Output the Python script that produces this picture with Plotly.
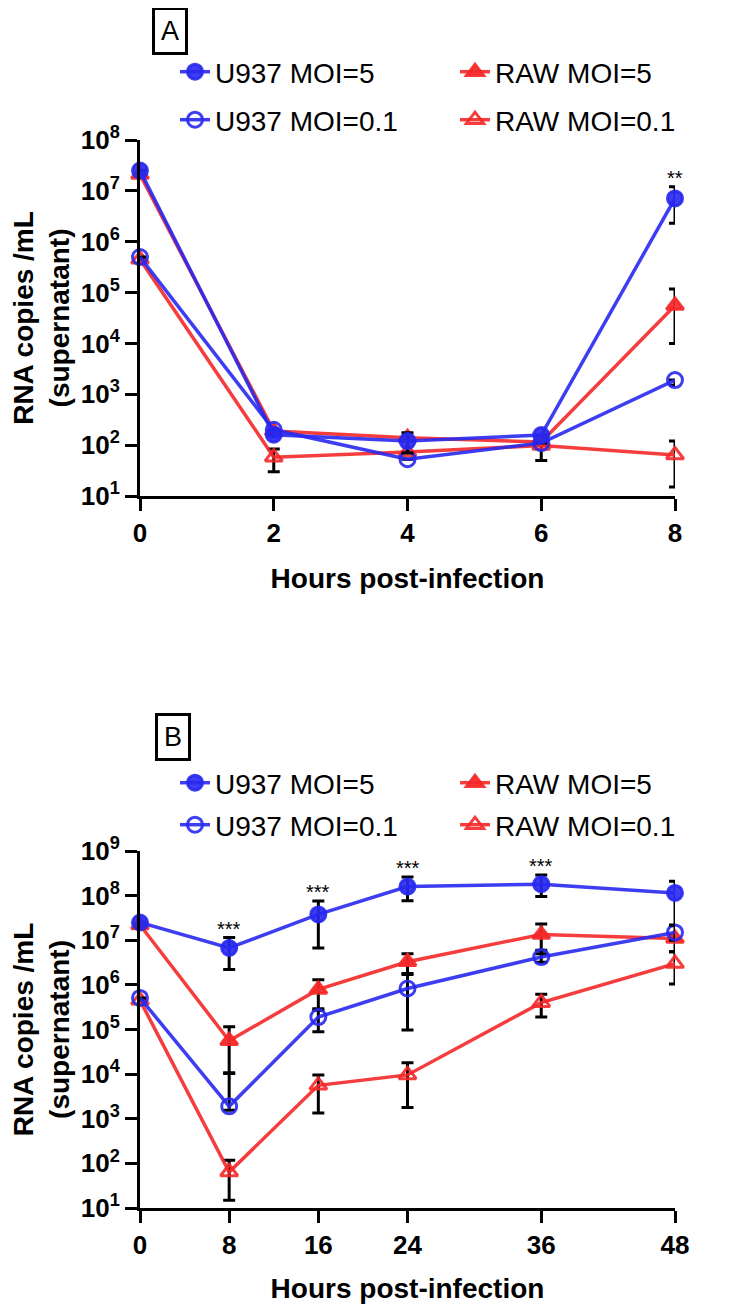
import math
import plotly.graph_objects as go

# ---------------- data ----------------
hours_A = [0, 2, 4, 6, 8]
u937_5_A = [2.5e7, 160, 120, 158, 7.1e6]
u937_5_A_hi = [None, None, 175, None, 1.2e7]
u937_5_A_lo = [None, None, 70, None, 2.3e6]
u937_01_A = [5.0e5, 200, 53, 110, 1.9e3]
u937_01_A_hi = [None, None, None, None, None]
u937_01_A_lo = [None, None, None, None, 1.5e3]
raw_5_A = [2.1e7, 190, 140, 115, 5.6e4]
raw_5_A_hi = [None, None, None, None, 1.17e5]
raw_5_A_lo = [None, None, None, None, 1.0e4]
raw_01_A = [4.5e5, 58, 73, 98, 64]
raw_01_A_hi = [None, 84, None, 120, 120]
raw_01_A_lo = [None, 30, None, 50, 15]
stars_A = ["", "", "", "", "**"]

hours_B = [0, 8, 16, 24, 36, 48]
u937_5_B = [2.5e7, 6.7e6, 3.8e7, 1.6e8, 1.8e8, 1.15e8]
u937_5_B_hi = [None, 1.15e7, 7.6e7, 2.6e8, 2.9e8, 2.1e8]
u937_5_B_lo = [None, 2.2e6, 6.7e6, 7.7e7, 9.5e7, 2.2e7]
u937_01_B = [5.1e5, 1.9e3, 1.9e5, 8.3e5, 4.2e6, 1.5e7]
u937_01_B_hi = [None, 1.07e4, 2.9e5, 1.8e6, 6.0e6, 2.1e7]
u937_01_B_lo = [None, 1.55e3, 8.9e4, 9.8e4, 3.2e6, 1.0e7]
raw_5_B = [2.2e7, 5.6e4, 7.9e5, 3.3e6, 1.35e7, 1.1e7]
raw_5_B_hi = [None, 1.15e5, 1.3e6, 5.0e6, 2.3e7, 1.3e7]
raw_5_B_lo = [None, 1.03e4, 2.7e5, 1.7e6, 5.0e6, 5.5e6]
raw_01_B = [4.5e5, 64, 5.6e3, 9.6e3, 4.0e5, 3.0e6]
raw_01_B_hi = [None, 117, 9.6e3, 1.8e4, 6.2e5, 5.5e6]
raw_01_B_lo = [None, 15, 1.35e3, 1.78e3, 1.9e5, 1.05e6]
stars_B = ["", "***", "***", "***", "***", ""]

series_names = ["U937 MOI=5", "U937 MOI=0.1", "RAW MOI=5", "RAW MOI=0.1"]
ytick_exp_A = [1, 2, 3, 4, 5, 6, 7, 8]
ytick_exp_B = [1, 2, 3, 4, 5, 6, 7, 8, 9]

BLUE = "rgba(40,40,240,0.9)"
RED = "rgba(245,40,40,0.9)"
FONT = "Liberation Sans, Arial, Helvetica, sans-serif"

# page has an 8px body margin; work in page pixels and convert
OFF = 8
W, H = 732 - OFF, 1304 - OFF
PLOT_L, PLOT_R, PLOT_T, PLOT_B = 140, 675, 140, 1208  # page px
ML = PLOT_L - OFF
MR = W - (PLOT_R - OFF)
MT = PLOT_T - OFF
MB = H - (PLOT_B - OFF)
PW, PH = W - ML - MR, H - MT - MB


def px_x(px):
    return (px - OFF - ML) / PW


def px_y(py):
    return (H - MB - (py - OFF)) / PH


def err(vals, hi, lo):
    up2, dn2 = [], []
    for v, h, l in zip(vals, hi, lo):
        if h is None and l is None:
            up2.append(None); dn2.append(None)
        else:
            up2.append(0 if h is None else h - v)
            dn2.append(0 if l is None else v - l)
    return dict(type="data", symmetric=False, array=up2, arrayminus=dn2,
                color="black", thickness=3, width=6, visible=True)


fig = go.Figure()

styles = [
    (BLUE, "circle"),
    (BLUE, "circle-open"),
    (RED, "triangle-up"),
    (RED, "triangle-up-open"),
]

panel_A = [(u937_5_A, u937_5_A_hi, u937_5_A_lo),
           (u937_01_A, u937_01_A_hi, u937_01_A_lo),
           (raw_5_A, raw_5_A_hi, raw_5_A_lo),
           (raw_01_A, raw_01_A_hi, raw_01_A_lo)]
panel_B = [(u937_5_B, u937_5_B_hi, u937_5_B_lo),
           (u937_01_B, u937_01_B_hi, u937_01_B_lo),
           (raw_5_B, raw_5_B_hi, raw_5_B_lo),
           (raw_01_B, raw_01_B_hi, raw_01_B_lo)]


def legend_key(pi, i):
    n = pi * 4 + i + 1
    return "legend" if n == 1 else f"legend{n}"


draw_order = [3, 2, 1, 0]
for pi, (panel, hours, xa, ya) in enumerate([(panel_A, hours_A, "x", "y"),
                                             (panel_B, hours_B, "x2", "y2")]):
    for i in draw_order:
        vals, hi, lo = panel[i]
        color, sym = styles[i]
        fig.add_trace(go.Scatter(
            x=hours, y=vals, name=series_names[i], mode="lines+markers",
            xaxis=xa, yaxis=ya,
            line=dict(color=color, width=3.5),
            marker=dict(symbol=sym, size=15, color=color,
                        line=dict(color=color, width=3)),
            error_y=err(vals, hi, lo),
            cliponaxis=False, showlegend=True,
            legend=legend_key(pi, i),
        ))

# legends (one entry each, laid out in a 2x2 grid like the reference)
legend_rows = {0: (72, 120), 1: (783, 825)}
col_px = [175, 455]
layout_legends = {}
for pi in range(2):
    for i in range(4):
        col = 0 if i < 2 else 1
        row = i % 2
        layout_legends[legend_key(pi, i)] = dict(
            x=px_x(col_px[col]), y=px_y(legend_rows[pi][row]),
            xanchor="left", yanchor="middle",
            bgcolor="rgba(0,0,0,0)", borderwidth=0, visible=True,
            font=dict(family=FONT, size=28, color="black"),
        )

tick_font = dict(family=FONT, size=26, color="black", weight="bold")
title_font = dict(family=FONT, size=28, color="black", weight="bold")

common_x = dict(showline=True, linecolor="black", linewidth=3, ticks="outside",
                ticklen=12, tickwidth=3, tickcolor="black", showgrid=False,
                zeroline=False, tickfont=tick_font, mirror=False)
common_y = dict(type="log", showline=True, linecolor="black", linewidth=3,
                ticks="outside", ticklen=12, tickwidth=3, tickcolor="black",
                showgrid=False, zeroline=False, tickfont=tick_font)

fig.update_layout(
    width=W, height=H, autosize=False, showlegend=True,
    margin=dict(l=ML, r=MR, t=MT, b=MB, autoexpand=False),
    paper_bgcolor="white", plot_bgcolor="white",
    xaxis=dict(common_x, domain=[0, 1], range=[0, 8], tickvals=hours_A,
               anchor="y",
               title=dict(text="Hours post-infection", font=title_font, standoff=22)),
    yaxis=dict(common_y, domain=[px_y(496), px_y(140)], range=[1, 8], anchor="x",
               tickvals=[10 ** e for e in ytick_exp_A],
               ticktext=[f"10<sup>{e}</sup>" for e in ytick_exp_A],
               title=dict(text="RNA copies /mL<br>(supernatant)", font=title_font, standoff=6)),
    xaxis2=dict(common_x, domain=[0, 1], range=[0, 48], tickvals=hours_B,
                anchor="y2",
                title=dict(text="Hours post-infection", font=title_font, standoff=20)),
    yaxis2=dict(common_y, domain=[px_y(1208), px_y(851)], range=[1, 9], anchor="x2",
                tickvals=[10 ** e for e in ytick_exp_B],
                ticktext=[f"10<sup>{e}</sup>" for e in ytick_exp_B],
                title=dict(text="RNA copies /mL<br>(supernatant)", font=title_font, standoff=6)),
    **layout_legends,
)

annotations = []
# panel letters in boxes
for letter, cx, cy in [("A", 170, 31), ("B", 173, 737)]:
    annotations.append(dict(
        text=letter, xref="paper", yref="paper", x=px_x(cx), y=px_y(cy),
        xanchor="center", yanchor="middle", showarrow=False,
        font=dict(family=FONT, size=27, color="black"),
        bordercolor="black", borderwidth=3, width=30, height=42, borderpad=0,
    ))

# significance stars above the upper error bar
for hours, vals, hi, stars, xr, yr in [
    (hours_A, u937_5_A, u937_5_A_hi, stars_A, "x", "y"),
    (hours_B, u937_5_B, u937_5_B_hi, stars_B, "x2", "y2"),
]:
    for h, v, top, s in zip(hours, vals, hi, stars):
        if not s:
            continue
        ref = top if top is not None else v
        annotations.append(dict(
            text=s, x=h, y=math.log10(ref), xref=xr, yref=yr,
            xanchor="center", yanchor="bottom", yshift=-4, showarrow=False,
            font=dict(family=FONT, size=20, color="black"),
        ))

fig.update_layout(annotations=annotations)

fig.write_html("out.html")
